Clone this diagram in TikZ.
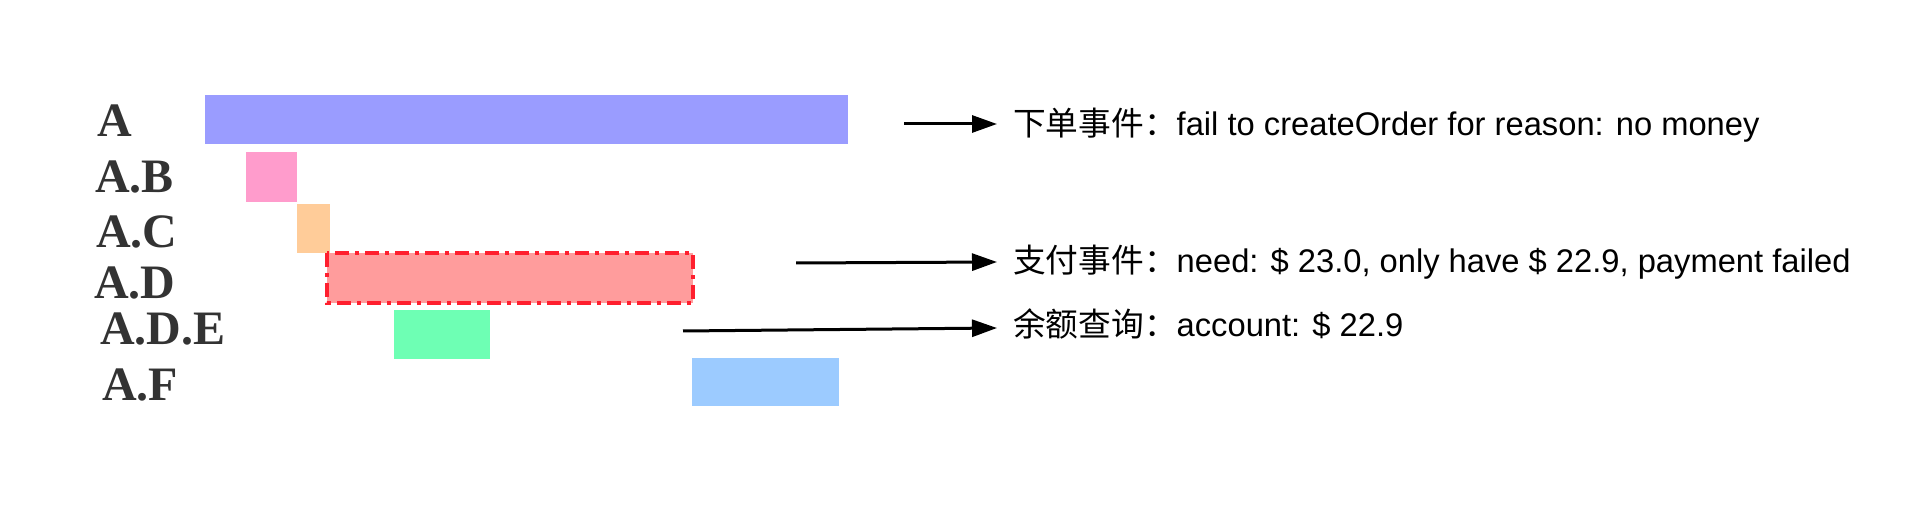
\documentclass[tikz,border=0pt]{standalone}
\usepackage{fontspec}
\setmainfont{Liberation Serif}
\setsansfont{Liberation Sans}
\newfontfamily\cjk{Noto Sans CJK SC}
\usetikzlibrary{arrows.meta}
\definecolor{cA}{HTML}{9A9CFF}
\definecolor{cB}{HTML}{FF9CCC}
\definecolor{cC}{HTML}{FFCC99}
\definecolor{cD}{HTML}{FF9C9C}
\definecolor{cDline}{HTML}{FF1F2E}
\definecolor{cE}{HTML}{6EFFB4}
\definecolor{cF}{HTML}{9CCBFF}
\definecolor{lbl}{HTML}{333333}
\begin{document}
\begin{tikzpicture}[x=1pt,y=-1pt,
  bar/.style={anchor=north west,inner sep=0pt,outer sep=0pt,draw=none},
  rowlabel/.style={anchor=base west,inner sep=0pt,text=lbl,font=\fontsize{48}{50}\selectfont\bfseries},
  note/.style={anchor=base west,inner sep=0pt,text=black,font=\fontsize{32.7}{36}\selectfont\sffamily},
  arr/.style={line width=3pt,-{Triangle[length=25pt,width=17pt]}}]
\useasboundingbox (0,0) rectangle (1914,518);
% bars
\node[bar,fill=cA,minimum width=643pt,minimum height=49pt] (bA) at (205,95) {};
\node[bar,fill=cB,minimum width=51pt,minimum height=50pt] (bB) at (246,152) {};
\node[bar,fill=cC,minimum width=33pt,minimum height=49pt] (bC) at (297,204) {};
\node[bar,fill=cD,minimum width=366pt,minimum height=50pt] (bD) at (327,253) {};
\draw[cDline,line width=3.5pt,dash pattern=on 14pt off 6pt on 4pt off 6pt]
  (bD.north west) rectangle (bD.south east);
\node[bar,fill=cE,minimum width=96pt,minimum height=49pt] (bE) at (394,310) {};
\node[bar,fill=cF,minimum width=147pt,minimum height=48pt] (bF) at (692,358) {};
% row labels
\node[rowlabel] (lA) at (97,137) {A};
\node[rowlabel] (lB) at (95,193) {A.B};
\node[rowlabel] (lC) at (96,248) {A.C};
\node[rowlabel] (lD) at (94,299) {A.D};
\node[rowlabel] (lE) at (100,345) {A.D.E};
\node[rowlabel] (lF) at (102,400) {A.F};
% notes
\node[note] (t1) at (1013,136) {{\cjk 下单事件：}fail to createOrder for reason: no money};
\node[note] (t2) at (1013,273) {{\cjk 支付事件：}need: \$ 23.0, only have \$ 22.9, payment failed};
\node[note] (t3) at (1013,337) {{\cjk 余额查询：}account: \$ 22.9};
% arrows
\coordinate (s1) at (904,124);
\coordinate (e1) at (997,124);
\coordinate (s2) at (796,263);
\coordinate (e2) at (997,262);
\coordinate (s3) at (683,331);
\coordinate (e3) at (997,328);
\draw[arr] (s1) -- (e1);
\draw[arr] (s2) -- (e2);
\draw[arr] (s3) -- (e3);
\end{tikzpicture}
\end{document}
